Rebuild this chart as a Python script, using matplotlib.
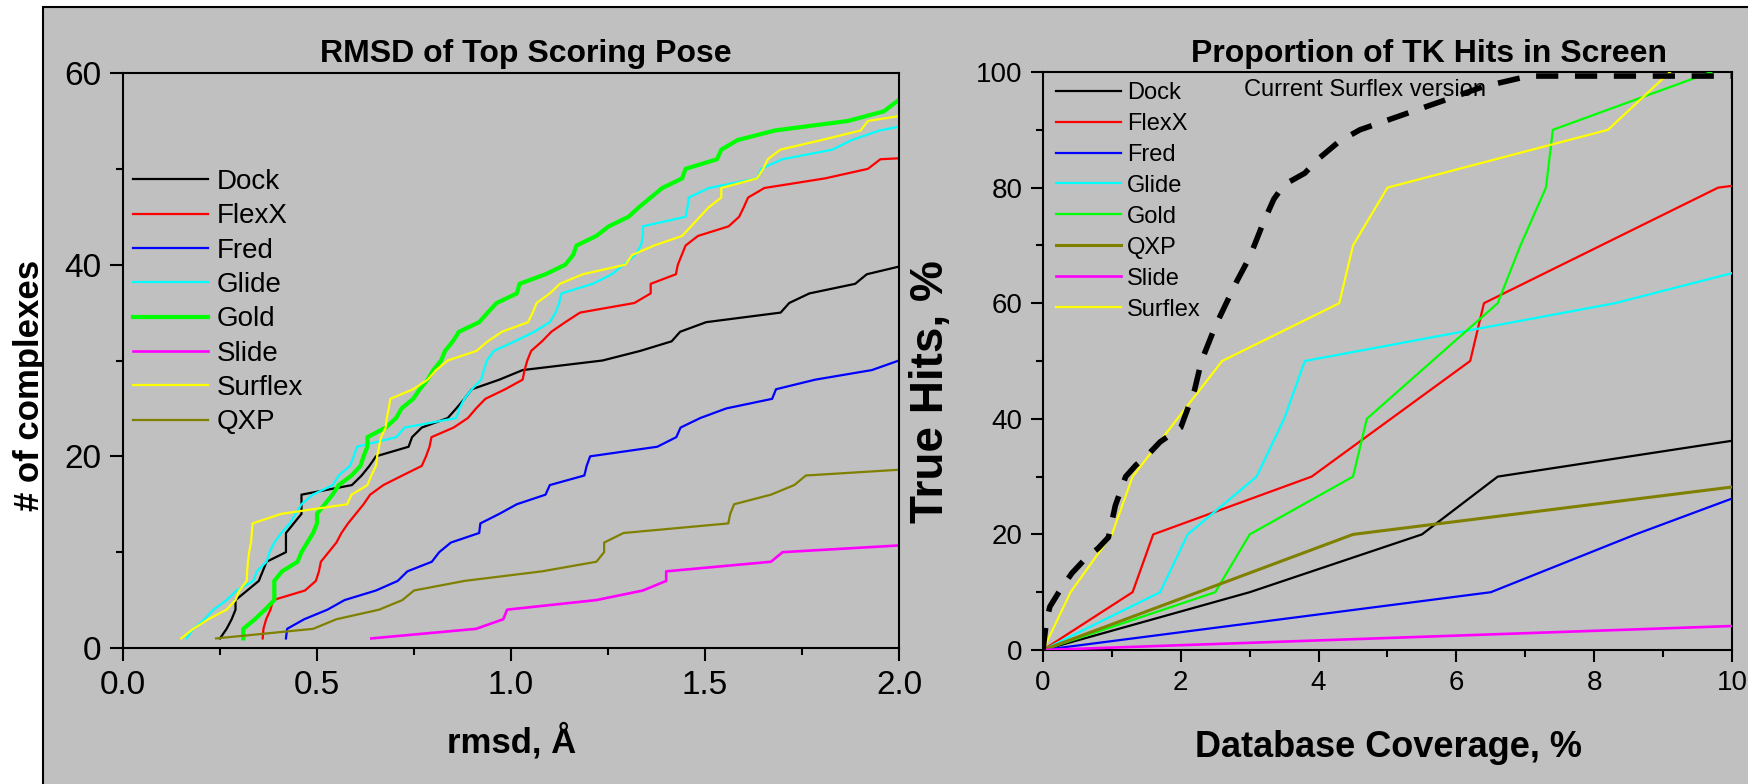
import matplotlib
matplotlib.use("Agg")
import matplotlib.pyplot as plt
from matplotlib.patches import Rectangle
from matplotlib.ticker import MultipleLocator, FormatStrFormatter

plt.rcParams["font.family"] = ["Liberation Sans", "DejaVu Sans"]

GRAY = "#c0c0c0"

# ---- left panel: cumulative count of complexes vs rmsd of top pose ----
dock_rmsd = [0.25, 0.267, 0.28, 0.29, 0.29, 0.32, 0.35, 0.36, 0.37, 0.42, 0.42, 0.42, 0.44, 0.46,
             0.46, 0.46, 0.59, 0.615, 0.635, 0.652, 0.736, 0.745, 0.77, 0.837, 0.859, 0.88, 0.899,
             0.97, 1.03, 1.236, 1.333, 1.414, 1.436, 1.503, 1.695, 1.717, 1.769, 1.887, 1.917, 2.0]
dock_n = [1, 2, 3, 4, 5, 6, 7, 8, 9, 10, 11, 12, 13, 14, 15, 16, 17, 18, 19, 20, 21, 22, 23, 24,
          25, 26, 27, 28, 29, 30, 31, 32, 33, 34, 35, 36, 37, 38, 39, 39.8]

flexx_rmsd = [0.36, 0.362, 0.369, 0.38, 0.387, 0.469, 0.497, 0.505, 0.51, 0.53, 0.55, 0.563, 0.58,
              0.60, 0.62, 0.637, 0.671, 0.72, 0.77, 0.781, 0.79, 0.795, 0.852, 0.889, 0.91, 0.934,
              0.985, 1.03, 1.035, 1.042, 1.052, 1.08, 1.104, 1.14, 1.178, 1.318, 1.36, 1.36, 1.425,
              1.43, 1.45, 1.482, 1.561, 1.588, 1.60, 1.611, 1.653, 1.809, 1.92, 1.952, 2.0]
flexx_n = [1, 2, 3, 4, 5, 6, 7, 8, 9, 10, 11, 12, 13, 14, 15, 16, 17, 18, 19, 20, 21, 22, 23, 24,
           25, 26, 27, 28, 29, 30, 31, 32, 33, 34, 35, 36, 37, 38, 39, 40, 42, 43, 44, 45, 46, 47,
           48, 49, 50, 51, 51.1]

fred_rmsd = [0.42, 0.423, 0.467, 0.527, 0.571, 0.652, 0.708, 0.733, 0.796, 0.815, 0.845, 0.918,
             0.921, 0.97, 1.015, 1.089, 1.10, 1.189, 1.195, 1.204, 1.377, 1.426, 1.437, 1.488,
             1.555, 1.673, 1.683, 1.784, 1.93, 2.0]
fred_n = [1, 2, 3, 4, 5, 6, 7, 8, 9, 10, 11, 12, 13, 14, 15, 16, 17, 18, 19, 20, 21, 22, 23, 24,
          25, 26, 27, 28, 29, 30]

glide_rmsd = [0.164, 0.181, 0.21, 0.233, 0.267, 0.293, 0.336, 0.345, 0.37, 0.378, 0.39, 0.408,
              0.43, 0.445, 0.46, 0.489, 0.541, 0.556, 0.585, 0.595, 0.603, 0.704, 0.726, 0.859,
              0.867, 0.88, 0.899, 0.923, 0.93, 0.938, 0.956, 1.01, 1.06, 1.10, 1.115, 1.124, 1.13,
              1.21, 1.26, 1.29, 1.32, 1.335, 1.34, 1.34, 1.45, 1.455, 1.458, 1.51, 1.634, 1.645,
              1.699, 1.828, 1.878, 1.95, 2.0]
glide_n = [1, 2, 3, 4, 5, 6, 7, 8, 9, 10, 11, 12, 13, 14, 15, 16, 17, 18, 19, 20, 21, 22, 23, 24,
           25, 26, 27, 28, 29, 30, 31, 32, 33, 34, 35, 36, 37, 38, 39, 40, 41, 42, 43, 44, 45, 46,
           47, 48, 49, 50, 51, 52, 53, 54, 54.4]

gold_rmsd = [0.31, 0.31, 0.34, 0.366, 0.39, 0.39, 0.39, 0.41, 0.45, 0.46, 0.475, 0.49, 0.50, 0.50,
             0.52, 0.54, 0.556, 0.589, 0.612, 0.62, 0.63, 0.63, 0.677, 0.704, 0.718, 0.748, 0.765,
             0.785, 0.80, 0.82, 0.83, 0.85, 0.866, 0.918, 0.94, 0.963, 1.015, 1.022, 1.089, 1.14,
             1.16, 1.169, 1.22, 1.252, 1.303, 1.33, 1.36, 1.39, 1.441, 1.45, 1.531, 1.542, 1.584,
             1.68, 1.869, 1.961, 2.0]
gold_n = [1, 2, 3, 4, 5, 6, 7, 8, 9, 10, 11, 12, 13, 14, 15, 16, 17, 18, 19, 20, 21, 22, 23, 24,
          25, 26, 27, 28, 29, 30, 31, 32, 33, 34, 35, 36, 37, 38, 39, 40, 41, 42, 43, 44, 45, 46,
          47, 48, 49, 50, 51, 52, 53, 54, 55, 56, 57.2]

slide_rmsd = [0.64, 0.91, 0.98, 0.99, 1.22, 1.34, 1.40, 1.40, 1.67, 1.70, 2.0]
slide_n = [1, 2, 3, 4, 5, 6, 7, 8, 9, 10, 10.7]

surflex_rmsd = [0.15, 0.181, 0.22, 0.267, 0.29, 0.30, 0.319, 0.32, 0.322, 0.325, 0.33, 0.332,
                0.334, 0.408, 0.578, 0.589, 0.63, 0.64, 0.652, 0.655, 0.66, 0.665, 0.677, 0.68,
                0.685, 0.689, 0.748, 0.785, 0.807, 0.837, 0.911, 0.94, 0.977, 1.044, 1.056, 1.066,
                1.10, 1.126, 1.185, 1.295, 1.312, 1.369, 1.441, 1.464, 1.487, 1.51, 1.542, 1.542,
                1.634, 1.65, 1.662, 1.694, 1.80, 1.901, 1.92, 2.0]
surflex_n = [1, 2, 3, 4, 5, 6, 7, 8, 9, 10, 11, 12, 13, 14, 15, 16, 17, 18, 19, 20, 21, 22, 23, 24,
             25, 26, 27, 28, 29, 30, 31, 32, 33, 34, 35, 36, 37, 38, 39, 40, 41, 42, 43, 44, 45,
             46, 47, 48, 49, 50, 51, 52, 53, 54, 55, 55.5]

qxp_rmsd = [0.24, 0.49, 0.55, 0.66, 0.72, 0.75, 0.88, 1.08, 1.22, 1.24, 1.24, 1.29, 1.56, 1.565,
            1.575, 1.67, 1.73, 1.76, 2.0]
qxp_n = [1, 2, 3, 4, 5, 6, 7, 8, 9, 10, 11, 12, 13, 14, 15, 16, 17, 18, 18.6]

# ---- right panel: % true hits vs % database coverage ----
dock_cov = [0, 3.0, 5.5, 6.6, 10]
dock_hits = [0, 10, 20, 30, 36.2]
flexx_cov = [0, 1.3, 1.6, 3.9, 6.2, 6.4, 9.8, 10]
flexx_hits = [0, 10, 20, 30, 50, 60, 80, 80.3]
fred_cov = [0, 6.5, 8.6, 10]
fred_hits = [0, 10, 20, 26.2]
glide_cov = [0, 1.7, 2.1, 3.1, 3.5, 3.8, 8.3, 10]
glide_hits = [0, 10, 20, 30, 40, 50, 60, 65.2]
gold_cov = [0, 2.5, 3.0, 4.5, 4.7, 6.6, 6.93, 7.3, 7.4, 9.7]
gold_hits = [0, 10, 20, 30, 40, 60, 70, 80, 90, 100]
qxp_cov = [0, 4.5, 10]
qxp_hits = [0, 20, 28.2]
slide_cov = [0, 10]
slide_hits = [0, 4.15]
surflex_cov = [0, 0.4, 1.0, 1.3, 2.6, 4.3, 4.5, 5.0, 8.2, 9.1]
surflex_hits = [0, 10, 20, 30, 50, 60, 70, 80, 90, 100]
current_cov = [0, 0.05, 0.1, 0.25, 0.42, 0.6, 0.8, 0.95, 1.05, 1.2, 1.35, 1.5, 1.7, 2.0, 2.2, 2.3,
               2.5, 2.8, 3.0, 3.2, 3.35, 3.5, 3.8, 4.0, 4.3, 4.6, 5.2, 5.8, 6.4, 7.05, 10]
current_hits = [0, 5, 7.5, 10.4, 13.3, 15.6, 17.6, 19.5, 25, 30, 32, 33.5, 36, 38.5, 45, 50, 56,
                63.5, 68, 74, 78, 80.5, 82.5, 85, 88, 90, 92.5, 95, 97.5, 99.3, 99.3]


def style_axes(ax, labelsize, major_len, pad):
    ax.set_facecolor(GRAY)
    for sp in ax.spines.values():
        sp.set_linewidth(1.5)
    ax.tick_params(which="both", direction="out", width=1.5, top=False, right=False)
    ax.tick_params(which="major", length=major_len, labelsize=labelsize, pad=pad)
    ax.tick_params(which="minor", length=5)


fig = plt.figure(figsize=(17.49, 7.84), dpi=100)
fig.set_facecolor("white")
fig.patches.append(Rectangle((43 / 1749, -0.1), 1.0, 1.0 - 7.3 / 784 + 0.1, transform=fig.transFigure,
                             facecolor=GRAY, edgecolor="black", linewidth=1.5, zorder=-1))

# left panel
ax1 = fig.add_axes([123 / 1749, 136 / 784, 776 / 1749, 575 / 784])
style_axes(ax1, 24, 9.5, 6)
ax1.plot(dock_rmsd, dock_n, color="black", lw=1.6, label="Dock")
ax1.plot(flexx_rmsd, flexx_n, color="#ff0000", lw=1.6, label="FlexX")
ax1.plot(fred_rmsd, fred_n, color="#0000ff", lw=1.6, label="Fred")
ax1.plot(glide_rmsd, glide_n, color="#00ffff", lw=1.6, label="Glide")
ax1.plot(gold_rmsd, gold_n, color="#00ff00", lw=3.0, label="Gold")
ax1.plot(slide_rmsd, slide_n, color="#ff00ff", lw=1.9, label="Slide")
ax1.plot(surflex_rmsd, surflex_n, color="#ffff00", lw=1.6, label="Surflex")
ax1.plot(qxp_rmsd, qxp_n, color="#808000", lw=1.6, label="QXP")
ax1.set_xlim(0, 2.0)
ax1.set_ylim(0, 60)
ax1.xaxis.set_major_locator(MultipleLocator(0.5))
ax1.xaxis.set_minor_locator(MultipleLocator(0.25))
ax1.xaxis.set_major_formatter(FormatStrFormatter("%.1f"))
ax1.yaxis.set_major_locator(MultipleLocator(20))
ax1.yaxis.set_minor_locator(MultipleLocator(10))
ax1.legend(loc="upper left", bbox_to_anchor=(0.0129, 0.833), frameon=False, fontsize=20,
           borderpad=0, borderaxespad=0, handlelength=2.7, handletextpad=0.3, labelspacing=0.3)

# right panel
ax2 = fig.add_axes([1043 / 1749, 134 / 784, 689 / 1749, 578 / 784])
style_axes(ax2, 20, 8.5, 6)
ax2.plot(dock_cov, dock_hits, color="black", lw=1.6, label="Dock", zorder=3)
ax2.plot(flexx_cov, flexx_hits, color="#ff0000", lw=1.6, label="FlexX", zorder=3)
ax2.plot(fred_cov, fred_hits, color="#0000ff", lw=1.6, label="Fred", zorder=3)
ax2.plot(glide_cov, glide_hits, color="#00ffff", lw=1.6, label="Glide", zorder=3)
ax2.plot(gold_cov, gold_hits, color="#00ff00", lw=1.6, label="Gold", zorder=3)
ax2.plot(qxp_cov, qxp_hits, color="#808000", lw=2.2, label="QXP", zorder=3)
ax2.plot(slide_cov, slide_hits, color="#ff00ff", lw=1.9, label="Slide", zorder=3)
ax2.plot(surflex_cov, surflex_hits, color="#ffff00", lw=1.6, label="Surflex", zorder=3)
ax2.plot(current_cov, current_hits, color="black", lw=4, dashes=(4, 3), zorder=4)
ax2.text(2.92, 95.85, "Current Surflex version", fontsize=17, ha="left", va="baseline", zorder=2)
ax2.set_xlim(0, 10)
ax2.set_ylim(0, 100)
ax2.xaxis.set_major_locator(MultipleLocator(2))
ax2.xaxis.set_minor_locator(MultipleLocator(1))
ax2.yaxis.set_major_locator(MultipleLocator(20))
ax2.yaxis.set_minor_locator(MultipleLocator(10))
ax2.legend(loc="upper left", bbox_to_anchor=(0.0189, 0.983), frameon=False, fontsize=17,
           borderpad=0, borderaxespad=0, handlelength=2.75, handletextpad=0.25, labelspacing=0.38)

# titles and axis labels
fig.text(526 / 1749, 1 - 62 / 784, "RMSD of Top Scoring Pose", fontsize=23, fontweight="bold",
         ha="center", va="baseline")
fig.text(1429 / 1749, 1 - 62 / 784, "Proportion of TK Hits in Screen", fontsize=23,
         fontweight="bold", ha="center", va="baseline")
fig.text(512 / 1749, 1 - 753 / 784, "rmsd, Å", fontsize=25, fontweight="bold",
         ha="center", va="baseline")
fig.text(1389 / 1749, 1 - 757 / 784, "Database Coverage, %", fontsize=26, fontweight="bold",
         ha="center", va="baseline")
fig.text(30 / 1749, 1 - 385 / 784, "# of complexes", fontsize=25, fontweight="bold",
         rotation=90, ha="center", va="center", zorder=-2)
fig.text(931 / 1749, 1 - 392 / 784, "True Hits, %", fontsize=33, fontweight="bold",
         rotation=90, ha="center", va="center")

fig.savefig("out.png", dpi=100, facecolor="white")
